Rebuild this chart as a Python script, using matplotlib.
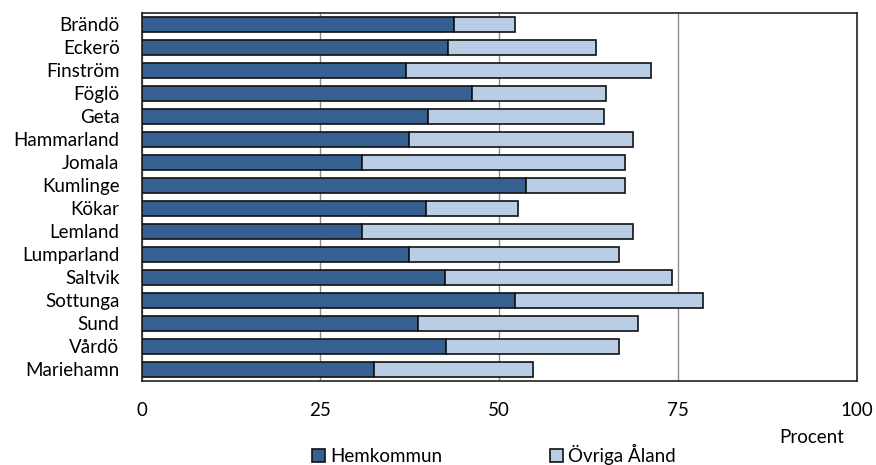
import matplotlib.pyplot as plt
import numpy as np

plt.rcParams['font.family'] = ['Lato', 'DejaVu Sans']

kommuner = ['Brändö', 'Eckerö', 'Finström', 'Föglö', 'Geta', 'Hammarland', 'Jomala',
            'Kumlinge', 'Kökar', 'Lemland', 'Lumparland', 'Saltvik', 'Sottunga',
            'Sund', 'Vårdö', 'Mariehamn']
hemkommun = [43.7, 42.8, 36.9, 46.2, 40.1, 37.4, 30.8, 53.7, 39.7, 30.8, 37.4,
             42.4, 52.2, 38.6, 42.6, 32.5]
totalt = [52.2, 63.6, 71.2, 64.9, 64.7, 68.7, 67.6, 67.6, 52.6, 68.7, 66.7,
          74.1, 78.5, 69.4, 66.7, 54.7]
ovriga = [t - h for t, h in zip(totalt, hemkommun)]

morkbla = '#376092'
ljusbla = '#B9CDE5'
fs = 13.5

fig = plt.figure(figsize=(8.76, 4.65), dpi=100)
ax = fig.add_axes([0.1618, 0.181, 0.8162, 0.7917])

y = np.arange(len(kommuner))
ax.barh(y, hemkommun, height=0.65, color=morkbla, edgecolor='#111111',
        linewidth=1.2, label='Hemkommun', zorder=3)
ax.barh(y, ovriga, left=hemkommun, height=0.65, color=ljusbla, edgecolor='#111111',
        linewidth=1.2, label='Övriga Åland', zorder=3)

ax.set_xlim(0, 100)
ax.set_ylim(len(kommuner) - 0.5, -0.5)
ax.set_yticks(y)
ax.set_yticklabels(kommuner, fontsize=fs)
ax.set_xticks([0, 25, 50, 75, 100])
ax.tick_params(axis='both', length=0)
ax.tick_params(axis='x', pad=15, labelsize=fs)
ax.tick_params(axis='y', pad=16)
ax.grid(axis='x', color='#8c8c8c', linewidth=1.0, zorder=0)
for s in ax.spines.values():
    s.set_color('#222222')
    s.set_linewidth(1.2)

fig.text(0.927, 0.060, 'Procent', ha='center', va='center', fontsize=fs)

fig.legend(loc='center', bbox_to_anchor=(0.564, 0.022), ncol=2, frameon=False,
           fontsize=fs, handlelength=0.7, handleheight=0.7, handletextpad=0.3,
           columnspacing=5.7, borderpad=0)

fig.savefig('out.png', dpi=100)
